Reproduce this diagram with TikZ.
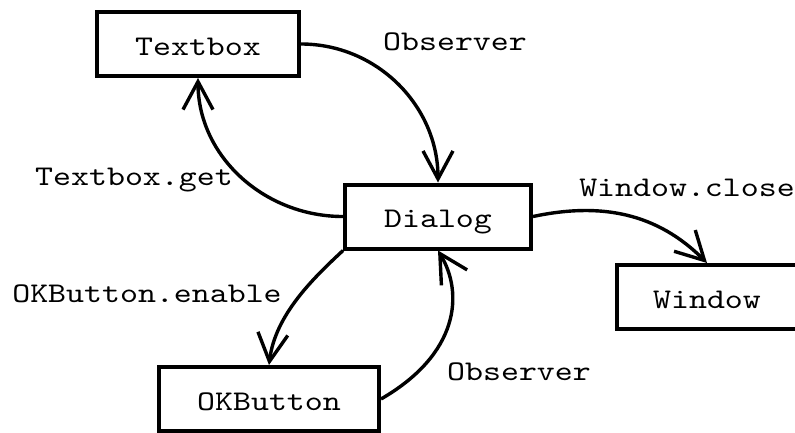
\documentclass[tikz,border=0pt]{standalone}
\usepackage{fontspec}
\setmonofont{lmmono10-regular.otf}[FakeStretch=1.2]
\usetikzlibrary{arrows.meta}
\begin{document}
\begin{tikzpicture}[x=1pt,y=1pt,
  every node/.style={font=\ttfamily\fontsize{28.5}{34}\selectfont},
  box/.style={draw, line width=4pt, inner sep=0pt, text height=22pt, text depth=0pt, minimum height=64pt},
  lbl/.style={anchor=base, inner sep=0pt},
  conn/.style={line width=3.4pt, -{Straight Barb[length=28pt,width=30pt]}}]
\useasboundingbox (0,0) rectangle (795,-432);
\clip (0,0) rectangle (795,-432);
\fill[white] (0,0) rectangle (795,-432);
% boxes
\node[box, minimum width=202pt] (tb) at (198,-44) {Textbox};
\node[box, minimum width=186pt] (dlg) at (438,-216.5) {Dialog};
\node[box, minimum width=180pt] (win) at (707,-297) {Window};
\node[box, minimum width=220pt] (okb) at (269,-399) {OKButton};
% labels
\node[lbl] (l1) at (455,-50) {Observer};
\node[lbl] (l2) at (134,-185) {Textbox.get};
\node[lbl] (l3) at (687,-196) {Window.close};
\node[lbl] (l4) at (147,-302) {OKButton.enable};
\node[lbl] (l5) at (519,-380) {Observer};
% connectors
\draw[conn] (tb.east) to[out=0, in=90] (dlg.north);
\draw[conn] (dlg.west) to[out=180, in=-90] (tb.south);
\draw[conn] (dlg.east) to[out=12, in=135] (win.north);
\draw[conn] (dlg.south west) to[out=223, in=83, out looseness=0.75, in looseness=0.95] (okb.north);
\draw[conn] (okb.east) to[out=30, in=-59, out looseness=1.45, in looseness=0.8] (dlg.south);
\end{tikzpicture}
\end{document}
